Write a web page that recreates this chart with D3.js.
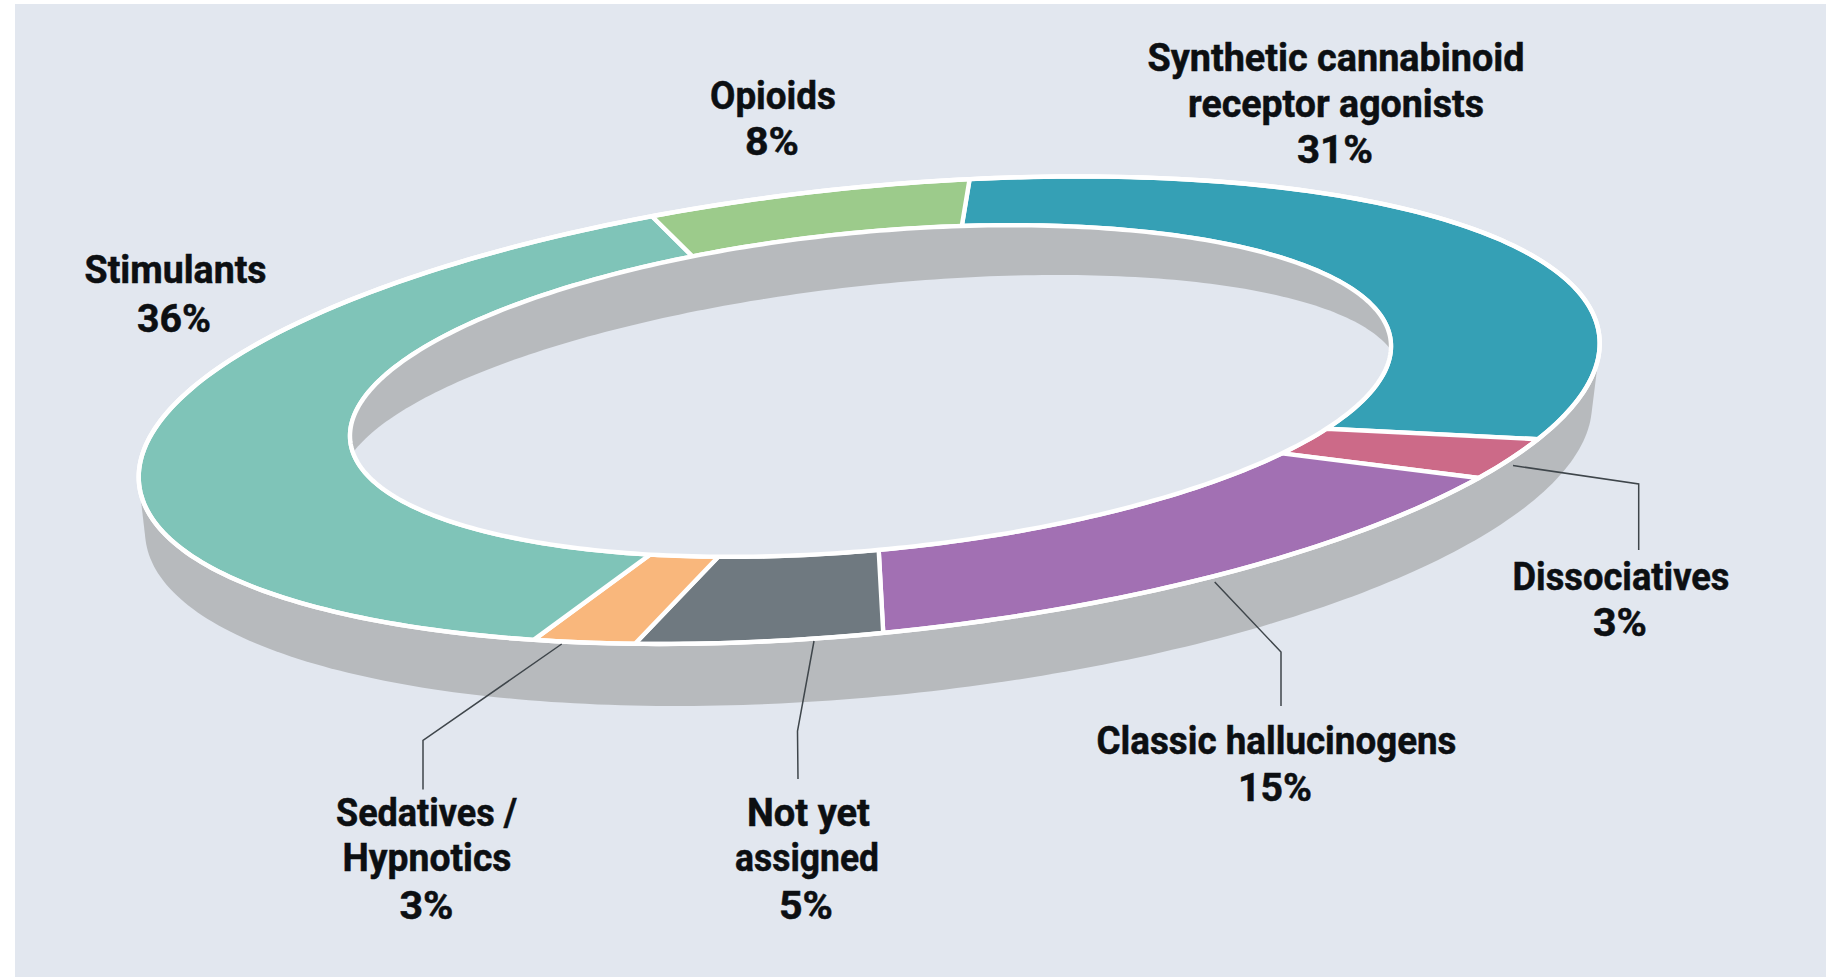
<!DOCTYPE html>
<html><head><meta charset="utf-8">
<script src="https://cdn.jsdelivr.net/npm/d3@7"></script>
<style>html,body{margin:0;padding:0;background:#fff;overflow:hidden}svg{display:block}
text{font-family:"Roboto","Liberation Sans",sans-serif;font-weight:700;fill:#0c0f12;stroke:#0c0f12;stroke-width:.5}</style>
</head><body><svg id="c" width="1826" height="977"></svg>
<script>
// ---- data, clockwise from the top of the ring ----
const categories = ["Synthetic cannabinoid receptor agonists","Dissociatives","Classic hallucinogens","Not yet assigned","Sedatives / Hypnotics","Stimulants","Opioids"];
const percents   = [31,3,15,5,3,36,8];                 // printed labels
const arcShares  = [29.4,2.7,15.4,5.5,2.4,37.6,7.0];   // sweep of each slice as drawn in the picture
const colors     = ["#35a0b5","#cc6a88","#a270b3","#6f7980","#f9b77c","#7fc4b8","#9ccb8b"];

// ---- layout ----
const W=1826,H=977, BG="#e2e7ef", WALL="#b7babd";
const labelLayout = [
 {lines:[["Synthetic cannabinoid",1336,71,377],["receptor agonists",1336,117,296],["31%",1335,163,76]]},
 {lines:[["Dissociatives",1621,589.5,217],["3%",1620,635.5,54]], leader:[[1513,465.5],[1638.7,484],[1638.7,550]]},
 {lines:[["Classic hallucinogens",1276.5,754,360],["15%",1275,801,74]], leader:[[1214.7,582],[1281,652],[1281,706]]},
 {lines:[["Not yet",808.5,826,123],["assigned",807,871,144],["5%",806,919,54]], leader:[[814,641],[797.5,731],[798,779]]},
 {lines:[["Sedatives /",426.5,826,181],["Hypnotics",427,871,169],["3%",426.5,919,54]], leader:[[561.7,644],[423,740.5],[423,789.4]]},
 {lines:[["Stimulants",175.6,283,182],["36%",174,331.7,74]]},
 {lines:[["Opioids",773,108.5,126],["8%",772,155,54]]}
];
// ellipses: x = cx + w sin a, y = cy + k sin a - e cos a
const outer = {cx:869.2,cy:410.2,w:730.5,k:-66.8,e:224};
const inner = {cx:870.5,cy:391,w:520.5,k:-44.8,e:159.6};
const outerLow = {cx:868.5,cy:468,w:723.5,k:-63,e:229.5};
const innerLow = {cx:870,cy:431,w:530,k:-55,e:146};
const innerSkewDeg = [2.2,5.1,4.3,0.2,-1.7,-2.3,-2.7];   // perspective shift of slice boundaries on the inner rim
const startDeg = 7.9, RIM = 4.4;

const rad = Math.PI/180;
const P = (E,a)=>[E.cx+E.w*Math.sin(a), E.cy+E.k*Math.sin(a)-E.e*Math.cos(a)];
const ring = E=>d3.range(0,360,1).map(d=>P(E,d*rad));
const line = d3.line();
const closed = d3.line().curve(d3.curveLinearClosed);

const svg=d3.select("#c");
svg.append("rect").attr("width",W).attr("height",H).attr("fill","#fff");
svg.append("rect").attr("x",15).attr("y",4).attr("width",W-15).attr("height",H-4).attr("fill",BG);

// extruded outer wall
svg.append("path").attr("d",closed(d3.polygonHull(ring(outer).concat(ring(outerLow))))).attr("fill",WALL);

// slices
const pie=d3.pie().sort(null).value(d=>d).startAngle(startDeg*rad).endAngle((startDeg+360)*rad);
const arcs=pie(arcShares);
const sliceG=svg.append("g");
arcs.forEach((d,i)=>{
  const i2=(i+1)%arcs.length;
  const a0=d.startAngle, a1=d.endAngle;
  const b0=a0+innerSkewDeg[i]*rad, b1=a1+innerSkewDeg[i2]*rad;
  const n=Math.max(8,Math.ceil((a1-a0)/rad));
  const os=d3.range(n+1).map(j=>P(outer,a0+(a1-a0)*j/n));
  const is=d3.range(n+1).map(j=>P(inner,b1+(b0-b1)*j/n));
  sliceG.append("path").attr("d",closed(os.concat(is)))
    .attr("fill",colors[i]).attr("stroke","#fff").attr("stroke-width",RIM).attr("stroke-linejoin","round");
});

// hole with its far inner wall
const defs=svg.append("defs");
defs.append("clipPath").attr("id","hole").append("path").attr("d",closed(ring(inner)));
svg.append("path").attr("d",closed(ring(inner))).attr("fill",WALL);
svg.append("path").attr("d",closed(ring(innerLow))).attr("fill",BG).attr("clip-path","url(#hole)");
svg.append("path").attr("d",closed(ring(inner))).attr("fill","none").attr("stroke","#fff").attr("stroke-width",RIM);
svg.append("path").attr("d",closed(ring(outer))).attr("fill","none").attr("stroke","#fff").attr("stroke-width",RIM);

// leaders and labels
labelLayout.forEach(l=>{
  if(l.leader) svg.append("path").attr("d",line(l.leader)).attr("fill","none").attr("stroke","#3f464b").attr("stroke-width",1.5);
  l.lines.forEach(t=>{
    svg.append("text").text(t[0]).attr("x",t[1]).attr("y",t[2]).attr("text-anchor","middle")
      .attr("font-size",38).attr("textLength",t[3]).attr("lengthAdjust","spacingAndGlyphs");
  });
});
</script></body></html>
